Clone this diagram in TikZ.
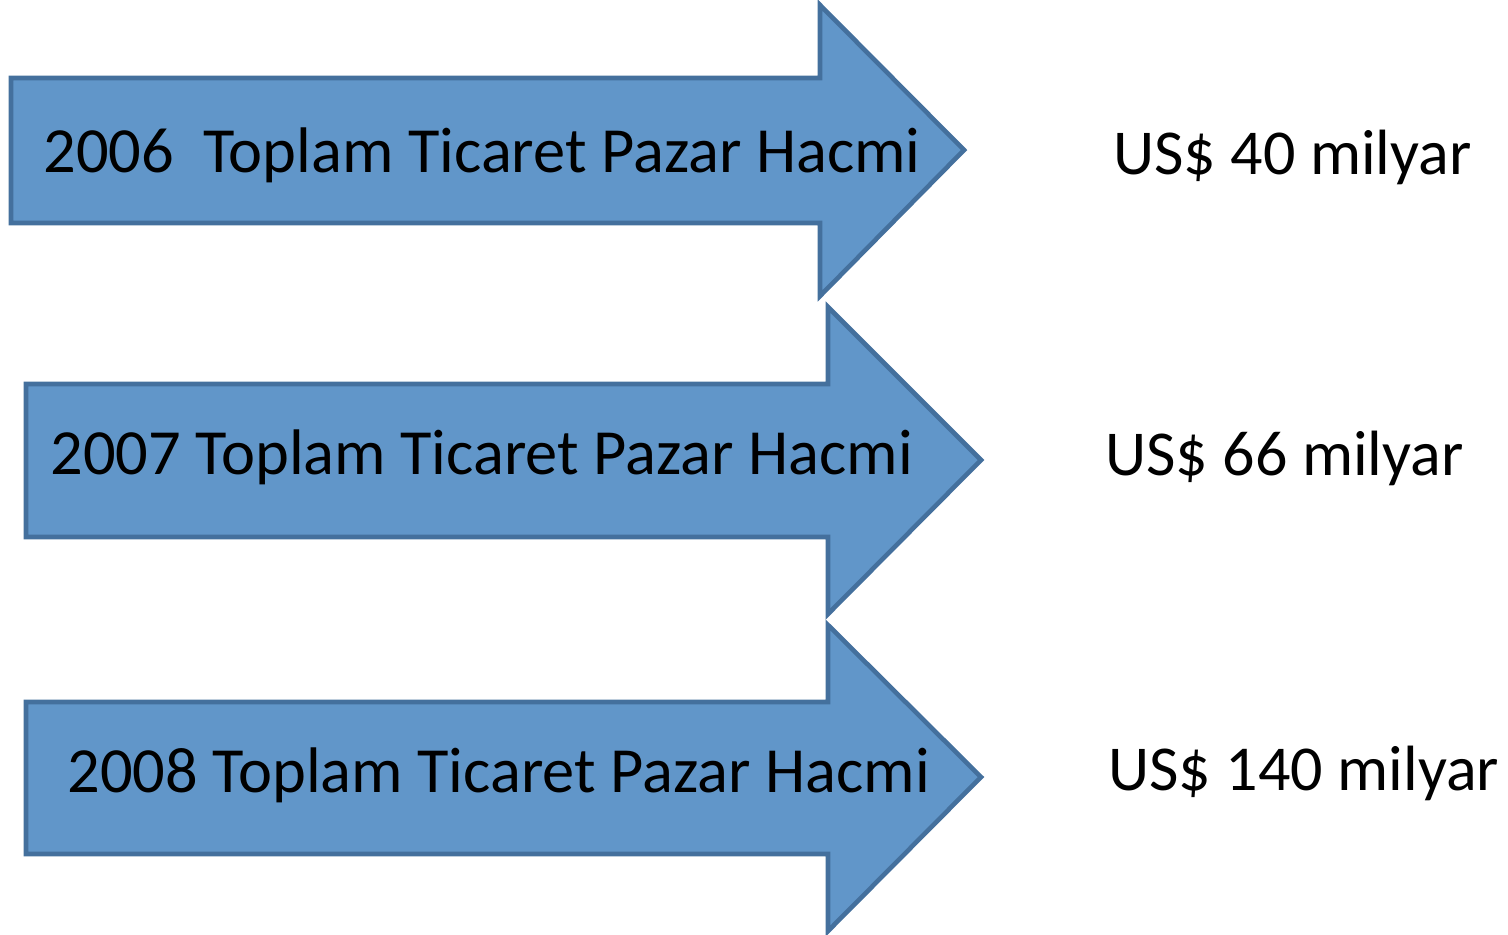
\documentclass[tikz,border=0pt]{standalone}
\usepackage{fontspec}
\setmainfont{Carlito}
\usetikzlibrary{positioning}

\definecolor{arrowfill}{HTML}{6196C9}
\definecolor{arrowline}{HTML}{44709D}

\begin{document}
\begin{tikzpicture}[
    x=0.5pt, y=-0.5pt,
    bigarrow/.style={draw=arrowline, fill=arrowfill, line width=2.3pt, line join=miter},
    label/.style={anchor=base west, inner sep=0pt, font=\fontsize{32.2}{39}\selectfont},
    amount/.style={anchor=base west, inner sep=0pt, font=\fontsize{32}{39}\selectfont}
]
\useasboundingbox (0,0) rectangle (1508,934);

% Arrows
\draw[bigarrow] (11,78) -- (820,78) -- (820,5) -- (964,150) -- (820,296) -- (820,223) -- (11,223) -- cycle;
\draw[bigarrow] (26,384) -- (828,384) -- (828,307) -- (981,460) -- (828,614) -- (828,537) -- (26,537) -- cycle;
\draw[bigarrow] (26,702) -- (828,702) -- (828,625) -- (981,777) -- (828,931) -- (828,854) -- (26,854) -- cycle;

% Years
\node[label] (y2006) at (43,172) {2006\ \ Toplam Ticaret Pazar Hacmi};
\node[label] (y2007) at (50,474) {2007 Toplam Ticaret Pazar Hacmi};
\node[label] (y2008) at (67,792) {2008 Toplam Ticaret Pazar Hacmi};

% Values
\node[amount] (v2006) at (1113,174) {US\$ 40 milyar};
\node[amount] (v2007) at (1105,475) {US\$ 66 milyar};
\node[amount] (v2008) at (1108,790) {US\$ 140 milyar};

\end{tikzpicture}
\end{document}
